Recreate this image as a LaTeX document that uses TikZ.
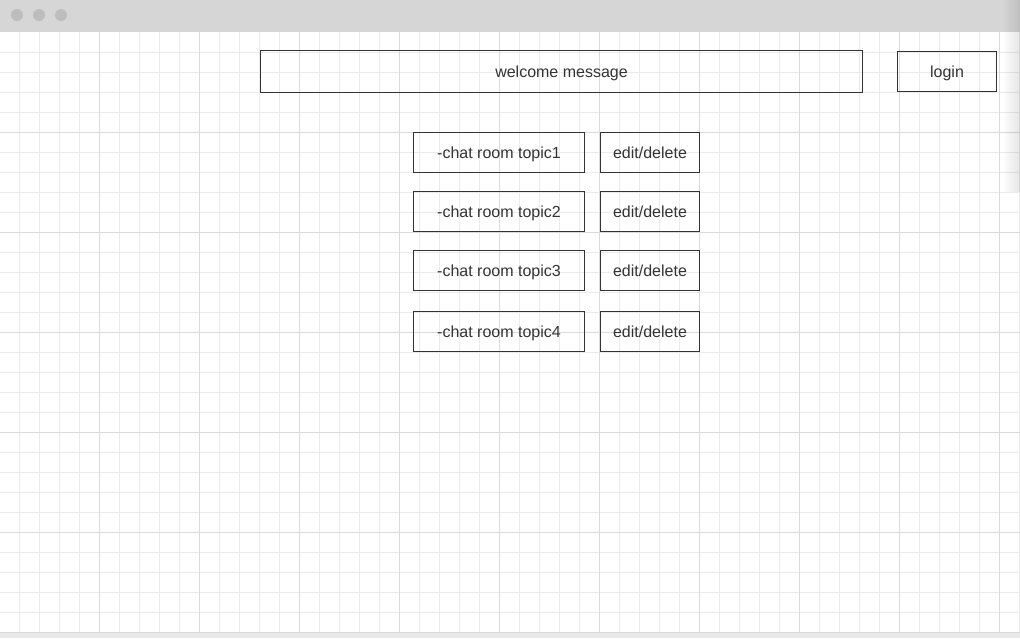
\documentclass[tikz,border=0pt]{standalone}
\usepackage{fontspec}
\setmainfont{Liberation Sans}
\usetikzlibrary{fadings}

\definecolor{titlegray}{HTML}{D6D6D6}
\definecolor{dotgray}{HTML}{BDBDBD}
\definecolor{minorgrid}{HTML}{EBEBEB}
\definecolor{majorgrid}{HTML}{DADADA}
\definecolor{boxgray}{HTML}{333333}
\definecolor{footgray}{HTML}{E8E8E8}

\tikzset{%
  ui box/.style={
    draw=boxgray,
    line width=1pt,
    text=boxgray,
    inner sep=0pt,
    minimum height=40pt,
    text height=14pt,
    text depth=3pt,
    font=\fontsize{16}{19}\selectfont
  },
  window dot/.style={circle, fill=dotgray, minimum size=12pt, inner sep=0pt},
}

\begin{document}
\begin{tikzpicture}[x=1pt, y=-1pt]
\useasboundingbox (0,0) rectangle (1020,638);
%=========================================================================================================
% Window frame
%=========================================================================================================

%title bar with the three dots
\fill [titlegray] (0,0) rectangle (1020,32);
\foreach \x [count=\i] in {17,39,61}
  \node [window dot] (dot-\i) at (\x,15) {};

%canvas and footer strip
\fill [white] (0,32) rectangle (1020,632);
\fill [footgray] (0,632) rectangle (1020,638);

%=========================================================================================================
% Grid
%=========================================================================================================

%minor lines every 20px
\foreach \x in {19.5,39.5,...,1019.5}
  \draw [minorgrid, line width=1pt] (\x,32) -- (\x,632);
\foreach \y in {52,72,...,612}
  \draw [minorgrid, line width=1pt] (0,\y) -- (1020,\y);

%major lines every 100px
\foreach \x in {99.5,199.5,...,999.5}
  \draw [majorgrid, line width=1pt] (\x,32) -- (\x,632);
\foreach \y in {132,232,...,632}
  \draw [majorgrid, line width=1pt] (0,\y) -- (1020,\y);

%shadow on the right edge
\fill [black, fill opacity=0.1, path fading=west] (1002,0) rectangle (1020,192);

%=========================================================================================================
% Header
%=========================================================================================================

\node [ui box, minimum width=602pt, minimum height=42pt] (welcome) at (561.5,71.5) {welcome message};
\node [ui box, minimum width=99pt] (login) at (947,71.5) {login};

%=========================================================================================================
% Chat rooms
%=========================================================================================================

\foreach \y [count=\i] in {152.5,211.5,270.5,331.5}
{
  \node [ui box, minimum width=171pt] (topic-\i) at (499,\y) {-chat room topic\i};
  \node [ui box, minimum width=99pt] (edit-\i) at (650,\y) {edit/delete};
}

\end{tikzpicture}
\end{document}
